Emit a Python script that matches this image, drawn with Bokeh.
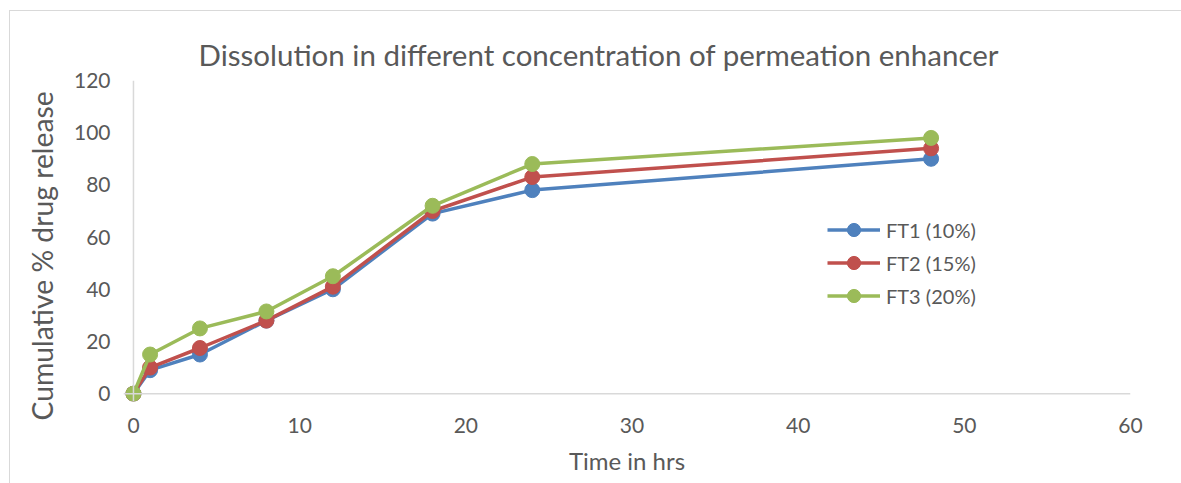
from bokeh.plotting import figure
from bokeh.models import Range1d, Legend, LegendItem, Span, FixedTicker, Title
from bokeh.embed import file_html
from bokeh.resources import INLINE

time_hrs = [0, 1, 4, 8, 12, 18, 24, 48]
ft1 = [0, 9, 15, 28, 40, 69, 78, 90]
ft2 = [0, 10, 17.5, 28, 41, 70, 83, 94]
ft3 = [0, 15, 25, 31.5, 45, 72, 88, 98]
series_names = ["FT1 (10%)", "FT2 (15%)", "FT3 (20%)"]
series_colors = ["#4F81BD", "#C0504D", "#9BBB59"]
x_ticks = [0, 10, 20, 30, 40, 50, 60]
y_ticks = [0, 20, 40, 60, 80, 100, 120]

FONT = "Lato"
TXT = "#595959"

p = figure(width=1171, height=472, output_backend="svg", toolbar_location=None,
           x_range=Range1d(-0.6, 60), y_range=Range1d(-3, 120),
           min_border_left=113, min_border_right=51, min_border_top=69, min_border_bottom=82,
           title="Dissolution in different concentration of permeation enhancer")
p.margin = (11, 0, 0, 10)
p.styles = {"outline": "1px solid #D9D9D9"}

p.title.text_font = FONT
p.title.text_font_size = "29.5px"
p.title.text_font_style = "normal"
p.title.text_color = TXT
p.title.align = "left"
p.title.offset = 75
p.title.standoff = 18

p.outline_line_color = None
p.xgrid.visible = False
p.ygrid.visible = False

for ax in (p.xaxis[0], p.yaxis[0]):
    ax.axis_line_color = None
    ax.major_tick_line_color = None
    ax.minor_tick_line_color = None
    ax.major_label_text_font = FONT
    ax.major_label_text_font_size = "21px"
    ax.major_label_text_color = TXT
    ax.axis_label_text_font = FONT
    ax.axis_label_text_font_style = "normal"
    ax.axis_label_text_color = TXT

p.xaxis[0].ticker = FixedTicker(ticks=x_ticks)
p.yaxis[0].ticker = FixedTicker(ticks=y_ticks)
p.xaxis[0].axis_label = "Time in hrs"
p.xaxis[0].axis_label_text_font_size = "24px"
p.xaxis[0].major_label_standoff = 10
p.xaxis[0].axis_label_standoff = 10
p.yaxis[0].major_label_standoff = 7

ytitle = Title(text="Cumulative % drug release", align="left", offset=-19,
               text_font=FONT, text_font_size="28.3px", text_font_style="normal",
               text_color=TXT, standoff=24, text_line_height=0.4)
p.add_layout(ytitle, "left")

p.add_layout(Span(location=0, dimension="width", line_color="#D9D9D9", line_width=1.5))
p.add_layout(Span(location=0, dimension="height", line_color="#D9D9D9", line_width=1.5))

items = []
for name, ys, col in zip(series_names, [ft1, ft2, ft3], series_colors):
    l = p.line(time_hrs, ys, line_color=col, line_width=3.5)
    s = p.scatter(time_hrs, ys, size=15, fill_color=col, line_color=col)
    items.append(LegendItem(label=name, renderers=[l, s]))

legend = Legend(items=items, location=(704, 89), orientation="vertical",
                label_text_font=FONT, label_text_font_size="20px", label_text_color=TXT,
                glyph_width=53, glyph_height=33, label_height=33, spacing=0,
                label_standoff=6, padding=0, margin=0,
                border_line_color=None, background_fill_alpha=0)
p.add_layout(legend, "center")

open("out.html", "w").write(file_html(p, INLINE))
